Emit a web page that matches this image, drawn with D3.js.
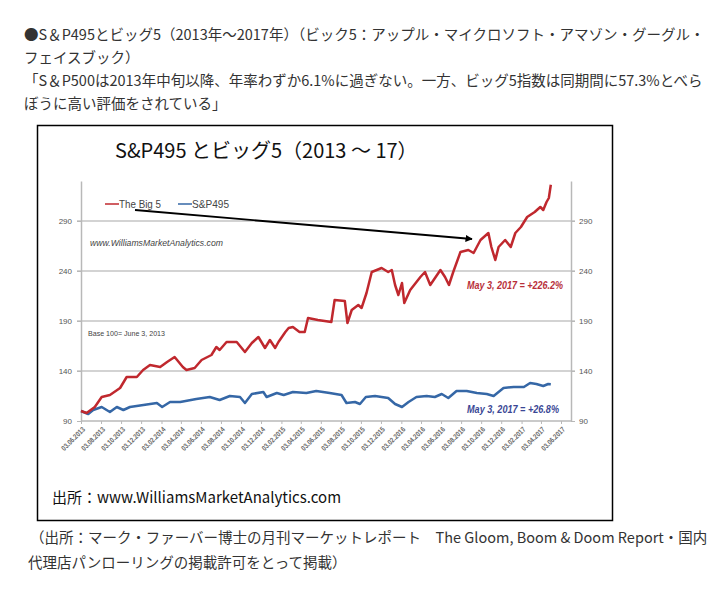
<!DOCTYPE html>
<html>
<head>
<meta charset="utf-8">
<script src="https://cdn.jsdelivr.net/npm/d3@7"></script>
<style>
  body { margin: 0; background: #fff; }
</style>
</head>
<body>
<script>
// DATA
// article text above and below the picture
const headerLines = [
  "●S＆P495とビッグ5（2013年～2017年）（ビック5：アップル・マイクロソフト・アマゾン・グーグル・",
  "フェイスブック）",
  "「S＆P500は2013年中旬以降、年率わずか6.1%に過ぎない。一方、ビッグ5指数は同期間に57.3%とべら",
  "ぼうに高い評価をされている」"
];
const noteLines = [
  "（出所：マーク・ファーバー博士の月刊マーケットレポート　The Gloom, Boom & Doom Report・国内",
  "代理店パンローリングの掲載許可をとって掲載）"
];
const chartTitle = "S&P495 とビッグ5（2013 ～ 17）";
const sourceText = "出所：www.WilliamsMarketAnalytics.com";

// tick labels (dd.mm.yyyy) and value ticks
const xTickLabels = [
  "03.06.2013", "03.08.2013", "03.10.2013", "03.12.2013",
  "03.02.2014", "03.04.2014", "03.06.2014", "03.08.2014", "03.10.2014", "03.12.2014",
  "03.02.2015", "03.04.2015", "03.06.2015", "03.08.2015", "03.10.2015", "03.12.2015",
  "03.02.2016", "03.04.2016", "03.06.2016", "03.08.2016", "03.10.2016", "03.12.2016",
  "03.02.2017", "03.04.2017", "03.06.2017"
];
const yTicks = [90, 140, 190, 240, 290];

// The Big 5 index (base 100 = June 3, 2013)
const big5Dates = [
  "2013-06-03", "2013-06-20", "2013-07-15", "2013-08-05", "2013-08-30", "2013-09-30",
  "2013-10-20", "2013-11-20", "2013-12-09", "2013-12-30", "2014-01-30", "2014-02-20",
  "2014-03-15", "2014-04-09", "2014-04-20", "2014-05-15", "2014-06-05", "2014-07-05",
  "2014-07-20", "2014-07-30", "2014-08-20", "2014-09-20", "2014-10-15", "2014-11-05",
  "2014-11-25", "2014-12-15", "2014-12-30", "2015-01-15", "2015-01-25", "2015-02-15",
  "2015-02-25", "2015-03-10", "2015-03-30", "2015-04-15", "2015-04-25", "2015-05-25",
  "2015-07-05", "2015-07-15", "2015-08-15", "2015-08-23", "2015-09-05", "2015-09-25",
  "2015-10-05", "2015-10-20", "2015-11-05", "2015-12-05", "2015-12-25", "2016-01-05",
  "2016-01-15", "2016-01-25", "2016-02-05", "2016-02-12", "2016-03-01", "2016-04-01",
  "2016-04-15", "2016-05-01", "2016-06-01", "2016-06-15", "2016-06-27", "2016-07-10",
  "2016-08-01", "2016-08-25", "2016-09-10", "2016-10-01", "2016-10-25", "2016-11-03",
  "2016-11-15", "2016-11-25", "2016-12-15", "2017-01-01", "2017-01-15", "2017-02-01",
  "2017-02-20", "2017-03-15", "2017-04-01", "2017-04-10", "2017-04-20", "2017-04-27",
  "2017-05-03"
];
const big5Values = [
  100, 98, 104, 114, 116, 123,
  134, 134, 141, 146, 144, 149,
  154, 144, 141, 143, 151, 156,
  164, 161, 169, 169, 159, 168,
  174, 163, 171, 163, 169, 179,
  183, 184, 179, 179, 193, 191,
  189, 211, 210, 188, 201, 206,
  203, 218, 239, 243, 239, 241,
  226, 216, 228, 208, 221, 234,
  239, 226, 241, 234, 226, 239,
  259, 261, 258, 271, 278, 264,
  251, 264, 271, 264, 278, 284,
  294, 299, 304, 301, 309, 313,
  326.2
];

// S&P495 index (base 100 = June 3, 2013)
const sp495Dates = [
  "2013-06-03", "2013-06-25", "2013-07-10", "2013-08-05", "2013-08-30", "2013-09-20",
  "2013-10-10", "2013-10-30", "2013-12-10", "2014-01-20", "2014-02-05", "2014-03-01",
  "2014-04-01", "2014-05-20", "2014-06-30", "2014-07-30", "2014-08-30", "2014-09-30",
  "2014-10-15", "2014-11-05", "2014-12-10", "2014-12-20", "2015-01-20", "2015-02-10",
  "2015-03-10", "2015-04-20", "2015-05-20", "2015-06-30", "2015-08-05", "2015-08-20",
  "2015-09-15", "2015-09-30", "2015-10-18", "2015-11-15", "2015-12-05", "2015-12-25",
  "2016-01-15", "2016-02-05", "2016-02-25", "2016-03-20", "2016-04-20", "2016-05-15",
  "2016-06-05", "2016-06-25", "2016-07-20", "2016-08-20", "2016-09-20", "2016-10-20",
  "2016-11-10", "2016-12-10", "2017-01-10", "2017-02-10", "2017-03-01", "2017-03-20",
  "2017-04-10", "2017-04-25", "2017-05-03"
];
const sp495Values = [
  100, 97, 101, 104, 99, 104,
  101, 104, 106, 108, 104, 109,
  109, 112, 114, 111, 115, 114,
  108, 117, 119, 114, 118, 116,
  119, 118, 120, 118, 116, 108,
  109, 107, 114, 115, 114, 113,
  107, 104, 109, 114, 115, 114,
  117, 113, 120, 120, 118, 117,
  115, 123, 124, 124, 128, 127,
  125, 127, 126.8
];

const seriesNames = ["The Big 5", "S&P495"];
const seriesColors = ["#c0282e", "#3567a6"];
const endLabels = ["May 3, 2017 = +226.2%", "May 3, 2017 = +26.8%"];
const endLabelColors = ["#b8303a", "#3a4795"];

// SETUP
const W = 727, H = 589;
const svg = d3.select("body")
  .append("svg")
  .attr("width", W)
  .attr("height", H);

const cjk = "'Noto Sans CJK JP', 'Noto Sans', sans-serif";
const narrow = "'Liberation Sans', Arial, sans-serif";

// HEADER TEXT
svg.append("g")
  .selectAll("text")
  .data(headerLines)
  .join("text")
  .attr("x", 24)
  .attr("y", (d, i) => 40 + i * 23)
  .attr("font-family", cjk)
  .attr("font-size", 14.5)
  .attr("fill", "#333")
  .text(d => d);

// FRAME
svg.append("rect")
  .attr("x", 37.5).attr("y", 125.5)
  .attr("width", 575).attr("height", 395)
  .attr("fill", "#fff")
  .attr("stroke", "#000")
  .attr("stroke-width", 1.5);

svg.append("text")
  .attr("x", 115)
  .attr("y", 158)
  .attr("font-family", cjk)
  .attr("font-size", 20)
  .attr("fill", "#111")
  .text(chartTitle);

svg.append("text")
  .attr("x", 52)
  .attr("y", 503)
  .attr("font-family", cjk)
  .attr("font-size", 15)
  .attr("fill", "#111")
  .text(sourceText);

// SCALES
const parseDate = d3.timeParse("%Y-%m-%d");
const parseTick = d3.timeParse("%d.%m.%Y");
const tickDates = xTickLabels.map(parseTick);

const plot = { left: 81, right: 571, top: 181, bottom: 421 };

const xScale = d3.scaleTime()
  .domain([tickDates[0], tickDates[tickDates.length - 1]])
  .range([plot.left, 561]);

const yScale = d3.scaleLinear()
  .domain([90, 330])
  .range([plot.bottom, plot.top]);

// GRIDLINES
svg.append("g")
  .selectAll("line")
  .data(yTicks.slice(1))
  .join("line")
  .attr("x1", plot.left - 4)
  .attr("x2", plot.right + 4)
  .attr("y1", d => yScale(d))
  .attr("y2", d => yScale(d))
  .attr("stroke", "#c4c4c4")
  .attr("stroke-width", 1.5);

// AXES
const axisColor = "#b8b8b8";
const labelColor = "#555";

const yLeft = svg.append("g")
  .attr("transform", `translate(${plot.left},0)`)
  .call(d3.axisLeft(yScale).tickValues(yTicks).tickSize(4).tickSizeOuter(0).tickPadding(5));

const yRight = svg.append("g")
  .attr("transform", `translate(${plot.right},0)`)
  .call(d3.axisRight(yScale).tickValues(yTicks).tickSize(4).tickSizeOuter(0).tickPadding(4));

const xAxis = svg.append("g")
  .attr("transform", `translate(0,${plot.bottom})`)
  .call(d3.axisBottom(xScale).tickValues(tickDates).tickFormat(d3.timeFormat("%d.%m.%Y")).tickSize(3).tickSizeOuter(0));

// extend the baseline to the right axis
xAxis.select(".domain").attr("d", `M${plot.left},0H${plot.right}`);

[yLeft, yRight, xAxis].forEach(g => {
  g.select(".domain").attr("stroke", axisColor).attr("stroke-width", 1.5);
  g.selectAll(".tick line").attr("stroke", axisColor);
  g.selectAll("text")
    .attr("font-family", narrow)
    .attr("font-size", 8)
    .attr("fill", labelColor);
});

xAxis.selectAll("text")
  .attr("font-size", 7.5)
  .attr("font-weight", "bold")
  .attr("fill", "#666")
  .attr("text-anchor", "end")
  .attr("dy", null)
  .attr("y", 0)
  .attr("textLength", 30)
  .attr("lengthAdjust", "spacingAndGlyphs")
  .attr("transform", "translate(4,9) rotate(-45)");

// LINES
const big5 = big5Dates.map((d, i) => ({ date: parseDate(d), value: big5Values[i] }));
const sp495 = sp495Dates.map((d, i) => ({ date: parseDate(d), value: sp495Values[i] }));

const line = d3.line()
  .x(d => xScale(d.date))
  .y(d => yScale(d.value));

[sp495, big5].forEach(s => {
  const k = s === big5 ? 0 : 1;
  svg.append("path")
    .datum(s)
    .attr("d", line)
    .attr("fill", "none")
    .attr("stroke", seriesColors[k])
    .attr("stroke-width", 2.5)
    .attr("stroke-linejoin", "round");
});

// LEGEND
const legendX = [105, 178];
const legendW = [42, 37];
const legend = svg.append("g");
legend.selectAll("line")
  .data(seriesNames)
  .join("line")
  .attr("x1", (d, i) => legendX[i])
  .attr("x2", (d, i) => legendX[i] + 14)
  .attr("y1", 204)
  .attr("y2", 204)
  .attr("stroke", (d, i) => seriesColors[i])
  .attr("stroke-width", 1.5);
legend.selectAll("text")
  .data(seriesNames)
  .join("text")
  .attr("x", (d, i) => legendX[i] + 14)
  .attr("y", 208)
  .attr("font-family", narrow)
  .attr("font-size", 11)
  .attr("fill", "#444")
  .attr("textLength", (d, i) => legendW[i])
  .attr("lengthAdjust", "spacingAndGlyphs")
  .text(d => d);

// ANNOTATIONS
svg.append("text")
  .attr("x", 90).attr("y", 246)
  .attr("font-family", narrow)
  .attr("font-style", "italic")
  .attr("font-size", 9.5)
  .attr("fill", "#444")
  .attr("textLength", 133)
  .attr("lengthAdjust", "spacingAndGlyphs")
  .text("www.WilliamsMarketAnalytics.com");

svg.append("text")
  .attr("x", 88).attr("y", 336)
  .attr("font-family", narrow)
  .attr("font-size", 8)
  .attr("fill", "#444")
  .attr("textLength", 77)
  .attr("lengthAdjust", "spacingAndGlyphs")
  .text("Base 100= June 3, 2013");

const endW = [96, 92];
svg.selectAll(".endLabel")
  .data(endLabels)
  .join("text")
  .attr("class", "endLabel")
  .attr("x", 467)
  .attr("y", (d, i) => i === 0 ? 289 : 413)
  .attr("font-family", narrow)
  .attr("font-style", "italic")
  .attr("font-weight", "bold")
  .attr("font-size", 11)
  .attr("fill", (d, i) => endLabelColors[i])
  .attr("textLength", (d, i) => endW[i])
  .attr("lengthAdjust", "spacingAndGlyphs")
  .text(d => d);

// ARROW
svg.append("defs")
  .append("marker")
  .attr("id", "head")
  .attr("viewBox", "0 0 10 10")
  .attr("refX", 9).attr("refY", 5)
  .attr("markerWidth", 4).attr("markerHeight", 4)
  .attr("orient", "auto")
  .append("path")
  .attr("d", "M0,0L10,5L0,10z")
  .attr("fill", "#000");

svg.append("line")
  .attr("x1", 135).attr("y1", 210)
  .attr("x2", 472).attr("y2", 239)
  .attr("stroke", "#000")
  .attr("stroke-width", 1.8)
  .attr("marker-end", "url(#head)");

// NOTE BELOW
svg.append("g")
  .selectAll("text")
  .data(noteLines)
  .join("text")
  .attr("x", (d, i) => i === 0 ? 30 : 28)
  .attr("y", (d, i) => 543 + i * 25)
  .attr("font-family", cjk)
  .attr("font-size", 14.5)
  .attr("fill", "#333")
  .text(d => d);
</script>
</body>
</html>
